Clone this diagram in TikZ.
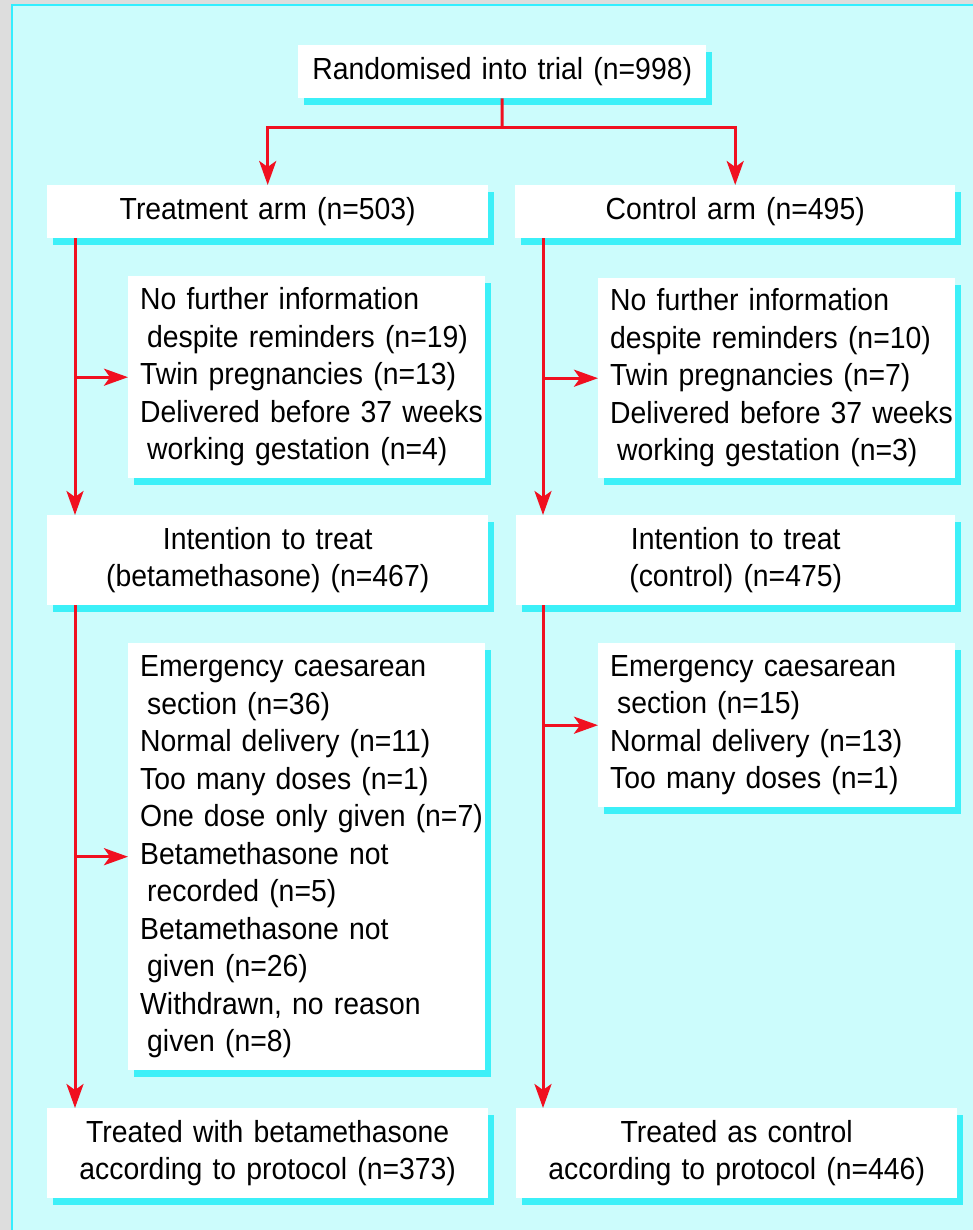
\documentclass[tikz,border=0pt]{standalone}
\usepackage{fontspec}
\setmainfont{Liberation Sans}[FakeStretch=0.93,WordSpace=0.85]
\usetikzlibrary{arrows.meta,shadows}
\definecolor{bgc}{HTML}{CCFCFC}
\definecolor{shc}{HTML}{3CF0F8}
\definecolor{framec}{HTML}{33EEFF}
\definecolor{greyc}{HTML}{DDDDDD}
\definecolor{arrc}{HTML}{F01020}
\newcommand\ind{\hspace*{7pt}}
\begin{document}
\begin{tikzpicture}[x=1pt,y=-1pt,
  box/.style={fill=white, inner xsep=12pt, inner ysep=0pt, anchor=north west,
    font=\fontsize{30.5}{37.5}\selectfont,
    drop shadow={shadow xshift=6pt, shadow yshift=-7pt, fill=shc, opacity=1}},
  conn/.style={draw=arrc, line width=3pt},
  arr/.style={conn, -{Stealth[length=24pt,width=17pt,inset=6pt]}}
]
\useasboundingbox (0,0) rectangle (973,1230);
\fill[greyc] (0,0) rectangle (973,1230);
\fill[bgc] (12,5) rectangle (973,1230);
\draw[framec, line width=2pt] (12,1230) -- (12,5) -- (973,5);

% top
\node[box, text width=384pt, minimum height=53pt, align=center] (rand) at (298,45) {Randomised into trial (n=998)};

% arms
\node[box, text width=417pt, minimum height=53pt, align=center] (ta) at (47,185) {Treatment arm (n=503)};
\node[box, text width=416pt, minimum height=53pt, align=center] (ca) at (515,185) {Control arm (n=495)};

% first exclusions
\node[box, text width=333pt, minimum height=202pt, align=left] (ex1l) at (128,276) {\begin{tabular}{@{}l@{}}No further information\\
\ind despite reminders (n=19)\\
Twin pregnancies (n=13)\\
Delivered before 37 weeks\\
\ind working gestation (n=4)\end{tabular}};
\node[box, text width=333pt, minimum height=200pt, align=left] (ex1r) at (598,278) {\begin{tabular}{@{}l@{}}No further information\\
despite reminders (n=10)\\
Twin pregnancies (n=7)\\
Delivered before 37 weeks\\
\ind working gestation (n=3)\end{tabular}};

% intention to treat
\node[box, text width=417pt, minimum height=90pt, align=center] (ittl) at (47,515) {Intention to treat\\(betamethasone) (n=467)};
\node[box, text width=415pt, minimum height=90pt, align=center] (ittr) at (516,515) {Intention to treat\\(control) (n=475)};

% second exclusions
\node[box, text width=333pt, minimum height=427pt, align=left] (ex2l) at (128,643) {\begin{tabular}{@{}l@{}}Emergency caesarean\\
\ind section (n=36)\\
Normal delivery (n=11)\\
Too many doses (n=1)\\
One dose only given (n=7)\\
Betamethasone not\\
\ind recorded (n=5)\\
Betamethasone not\\
\ind given (n=26)\\
Withdrawn, no reason\\
\ind given (n=8)\end{tabular}};
\node[box, text width=333pt, minimum height=164pt, align=left] (ex2r) at (598,643) {\begin{tabular}{@{}l@{}}Emergency caesarean\\
\ind section (n=15)\\
Normal delivery (n=13)\\
Too many doses (n=1)\end{tabular}};

% final
\node[box, text width=417pt, minimum height=90pt, align=center] (finl) at (47,1108) {Treated with betamethasone\\according to protocol (n=373)};
\node[box, text width=417pt, minimum height=90pt, align=center] (finr) at (516,1108) {Treated as control\\according to protocol (n=446)};

% connectors
\coordinate (split) at (502,128);
\coordinate (lx) at (75,0);
\coordinate (rx) at (543,0);
\draw[conn] (rand.south) -- (split);
\draw[arr] (split) -| (ta.north);
\draw[arr] (split) -| (ca.north);

\draw[arr] (ta.south -| lx) -- (ittl.north -| lx);
\draw[arr] (ex1l.west -| lx) -- (ex1l.west);
\draw[arr] (ca.south -| rx) -- (ittr.north -| rx);
\draw[arr] (ex1r.west -| rx) -- (ex1r.west);

\draw[arr] (ittl.south -| lx) -- (finl.north -| lx);
\draw[arr] (ex2l.west -| lx) -- (ex2l.west);
\draw[arr] (ittr.south -| rx) -- (finr.north -| rx);
\draw[arr] (ex2r.west -| rx) -- (ex2r.west);
\end{tikzpicture}
\end{document}
